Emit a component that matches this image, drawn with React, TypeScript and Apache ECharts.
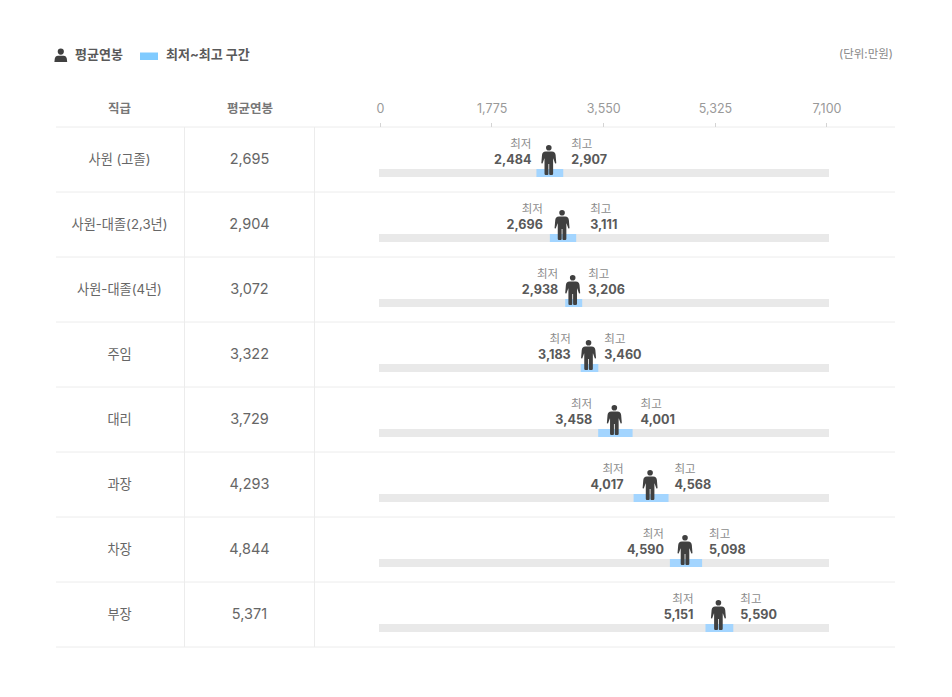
import React, { useEffect, useRef } from "react";
import * as echarts from "echarts";

const positions = ["사원 (고졸)", "사원-대졸(2,3년)", "사원-대졸(4년)", "주임", "대리", "과장", "차장", "부장"];
const averagePay = [2695, 2904, 3072, 3322, 3729, 4293, 4844, 5371];
const lowestPay = [2484, 2696, 2938, 3183, 3458, 4017, 4590, 5151];
const highestPay = [2907, 3111, 3206, 3460, 4001, 4568, 5098, 5590];
const axisMax = 7100;
const axisStep = 1775;

const lowLabelGap = [5, 7, 7, 10, 6, 10, 6, 12];
const highLabelGap = [8, 14, 6, 6, 8, 6, 7, 7];

const FONT = "Inter, 'Noto Sans CJK KR', sans-serif";
const fmt = (v: number) => v.toLocaleString("en-US");

const PERSON =
  "M7.5 0a2.8 2.8 0 1 1 0 5.6a2.8 2.8 0 1 1 0-5.6ZM4.4 6.4H10.6C13 6.4 14 7.8 14.3 10L15 18.2L13.8 18.6L12 13.6L11.8 13.6V28.8Q11.8 30 10.6 30H8.8Q7.9 30 7.9 28.8V19H7.1V28.8Q7.1 30 6.2 30H4.4Q3.2 30 3.2 28.8V13.6H3L1.2 18.6L0 18.2L0.7 10C1 7.8 2 6.4 4.4 6.4Z";
const BUST =
  "M6 0a3.1 3.1 0 1 1 0 6.2a3.1 3.1 0 1 1 0-6.2ZM3.2 7.2H8.8C10.6 7.2 11.6 8.4 12 10L12.4 13.5H-0.4L0 10C0.4 8.4 1.4 7.2 3.2 7.2Z";

echarts.graphic.registerShape("bust", echarts.graphic.extendPath(BUST, {}));

const hLine = (y: number) => ({
  type: "line",
  silent: true,
  shape: { x1: 56, y1: y, x2: 895, y2: y },
  style: { stroke: "#ececec", lineWidth: 1 },
});
const vLine = (x: number) => ({
  type: "line",
  silent: true,
  shape: { x1: x, y1: 127, x2: x, y2: 647 },
  style: { stroke: "#ececec", lineWidth: 1 },
});
const label = (x: number, y: number, text: string, align: string, size: number, weight: any, fill: string) => ({
  type: "text",
  x,
  y,
  style: { text, align, verticalAlign: "middle", font: `${weight} ${size}px ${FONT}`, fill },
});

export default function App() {
  const ref = useRef<HTMLDivElement>(null);
  useEffect(() => {
    const chart = echarts.init(ref.current!, null, { renderer: "svg" });
    const rows = positions.map((_, i) => [i, averagePay[i], lowestPay[i], highestPay[i]]);
    chart.setOption({
      animation: false,
      textStyle: { fontFamily: FONT },
      grid: [
        { left: 380, width: 446.5, top: 127, height: 520 },
        { left: 379, width: 450, top: 127, height: 520 },
        { left: 380, width: 446.5, top: 126, height: 520 },
      ],
      xAxis: [
        {
          gridIndex: 0,
          type: "value",
          position: "top",
          min: 0,
          max: axisMax,
          interval: axisStep,
          axisLine: { show: false },
          axisTick: { show: true, length: 4, lineStyle: { color: "#d4d4d4" } },
          splitLine: { show: false },
          axisLabel: {
            margin: 12,
            fontSize: 12.5,
            color: "#999",
            fontFamily: FONT,
            formatter: (v: number) => fmt(v),
            showMinLabel: true,
            showMaxLabel: true,
            hideOverlap: false,
            padding: [0, 0, 0, 1],
          },
        },
        { gridIndex: 1, type: "value", min: 0, max: axisMax, show: false },
        { gridIndex: 2, type: "value", min: 0, max: axisMax, show: false },
      ],
      yAxis: [
        { gridIndex: 0, type: "category", inverse: true, data: positions, show: false },
        { gridIndex: 1, type: "category", inverse: true, data: positions, show: false },
        {
          gridIndex: 2,
          type: "category",
          inverse: true,
          data: positions,
          axisLine: { show: false },
          axisTick: { show: false },
          axisLabel: { align: "center", margin: 260.5, fontSize: 13.2, color: "#666", fontFamily: FONT, interval: 0 },
        },
        {
          gridIndex: 2,
          type: "category",
          inverse: true,
          position: "left",
          data: averagePay.map(fmt),
          axisLine: { show: false },
          axisTick: { show: false },
          axisLabel: { align: "center", margin: 130.5, fontSize: 14.5, color: "#666", fontFamily: FONT, interval: 0 },
        },
      ],
      series: [
        {
          type: "custom",
          xAxisIndex: 1,
          yAxisIndex: 1,
          data: rows,
          clip: false,
          silent: true,
          renderItem: (_p: any, api: any) => {
            const i = api.value(0);
            const avg = api.value(1);
            const low = api.value(2);
            const high = api.value(3);
            const c = api.coord([avg, i]);
            const y = c[1];
            const x0 = api.coord([0, i])[0];
            const xEnd = api.coord([axisMax, i])[0];
            const xLow = api.coord([low, i])[0];
            const xHigh = api.coord([high, i])[0];
            const cx = c[0] - 1;
            const barY = y + 9.5;
            const barH = 8;
            const text = (x: number, ty: number, t: string, align: string, size: number, weight: any, fill: string) => ({
              type: "text",
              x,
              y: ty,
              style: { text: t, align, verticalAlign: "middle", font: `${weight} ${size}px ${FONT}`, fill },
            });
            const lx = xLow - lowLabelGap[i];
            const hx = xHigh + highLabelGap[i];
            return {
              type: "group",
              children: [
                { type: "rect", shape: { x: x0, y: barY, width: xEnd - x0, height: barH }, style: { fill: "#e9e9e9" } },
                { type: "rect", shape: { x: xLow, y: barY, width: xHigh - xLow, height: barH }, style: { fill: "#a3d5ff" } },
                {
                  type: "path",
                  shape: { pathData: PERSON, x: cx - 7.5, y: y - 14.5, width: 15, height: 30 },
                  style: { fill: "#404040" },
                },
                text(lx, y - 15.5, "최저", "right", 11.5, 400, "#8c8c8c"),
                text(lx, y, fmt(low), "right", 12.6, 700, "#595959"),
                text(hx, y - 15.5, "최고", "left", 11.5, 400, "#8c8c8c"),
                text(hx, y, fmt(high), "left", 12.6, 700, "#595959"),
              ],
            };
          },
        },
      ],
      graphic: [
        ...[127, 192, 257, 322, 387, 452, 517, 582, 647].map(hLine),
        vLine(184.5),
        vLine(314.5),
        { type: "bust", x: 54.8, y: 48.5, style: { fill: "#404040" } },
        label(75, 54, "평균연봉", "left", 13, 700, "#595959"),
        { type: "rect", shape: { x: 140, y: 52.5, width: 18, height: 7.5 }, style: { fill: "#80cbff" } },
        label(166, 54, "최저~최고 구간", "left", 13, 700, "#595959"),
        label(893, 54, "(단위:만원)", "right", 11.5, 400, "#888888"),
        label(119.5, 108, "직급", "center", 12.5, 600, "#777777"),
        label(250, 108, "평균연봉", "center", 12.5, 600, "#777777"),
      ],
    });
    return () => chart.dispose();
  }, []);
  return <div ref={ref} style={{ position: "absolute", left: 0, top: 0, width: 952, height: 697 }} />;
}
